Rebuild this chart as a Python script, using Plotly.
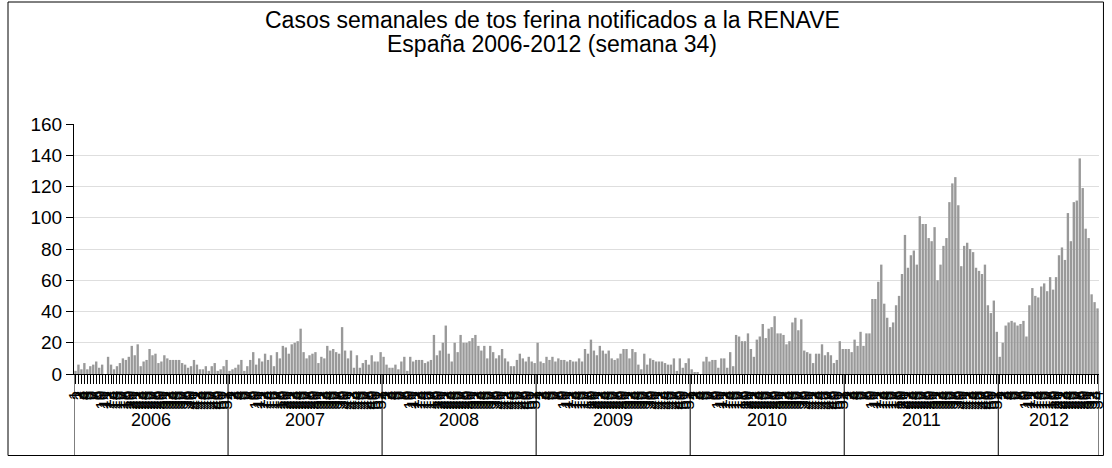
import plotly.graph_objects as go

# Casos semanales de tos ferina (RENAVE)
years = ['2006', '2007', '2008', '2009', '2010', '2011', '2012']

cases_2006 = [2, 6, 3, 7, 3, 5, 6, 8, 4, 6, 0, 11, 6, 3, 5, 7, 10, 9, 11, 18,
              12, 19, 5, 8, 9, 16, 12, 13, 7, 8, 12, 10, 9, 9, 9, 9, 7, 6, 4, 5,
              9, 6, 3, 3, 5, 2, 5, 7, 2, 3, 5, 9]
cases_2007 = [2, 3, 4, 6, 9, 2, 5, 9, 14, 6, 10, 8, 13, 9, 12, 5, 14, 10, 18, 17,
              13, 19, 20, 21, 29, 14, 10, 12, 13, 14, 7, 11, 10, 18, 15, 16, 14, 13, 30, 15,
              10, 15, 4, 12, 4, 7, 9, 6, 12, 8, 8, 14]
cases_2008 = [11, 6, 4, 4, 6, 3, 8, 11, 2, 11, 8, 9, 9, 9, 7, 8, 9, 25, 12, 15,
              20, 31, 13, 8, 20, 14, 25, 20, 20, 21, 23, 25, 18, 15, 18, 10, 18, 14, 10, 12,
              16, 10, 8, 5, 5, 9, 13, 10, 8, 11, 8, 7]
cases_2009 = [20, 8, 7, 11, 9, 11, 8, 10, 9, 9, 8, 9, 8, 8, 10, 8, 16, 13, 22, 15,
              12, 18, 15, 13, 15, 10, 9, 10, 13, 16, 16, 10, 16, 14, 6, 3, 13, 6, 10, 9,
              8, 8, 8, 7, 6, 6, 10, 2, 10, 4, 7, 10]
cases_2010 = [3, 1, 1, 0, 8, 11, 8, 9, 9, 4, 10, 10, 4, 14, 5, 25, 24, 21, 21, 26,
              16, 11, 22, 24, 32, 23, 29, 30, 37, 26, 26, 25, 19, 21, 33, 36, 28, 35, 15, 14,
              13, 7, 13, 13, 19, 12, 14, 12, 7, 9, 21, 16]
cases_2011 = [16, 16, 14, 22, 18, 27, 18, 26, 26, 48, 48, 59, 70, 45, 36, 30, 33, 44, 50, 64,
              89, 68, 76, 79, 70, 101, 96, 96, 87, 85, 94, 60, 70, 82, 87, 110, 122, 126, 108, 69,
              82, 84, 80, 78, 68, 66, 64, 70, 44, 39, 47, 27]
cases_2012 = [11, 20, 31, 33, 34, 33, 31, 32, 34, 24, 44, 55, 50, 49, 56, 58, 53, 62, 54, 62,
              76, 81, 73, 103, 85, 110, 111, 138, 119, 93, 87, 51, 46, 42]

weekly_cases = [cases_2006, cases_2007, cases_2008, cases_2009,
                cases_2010, cases_2011, cases_2012]

title_1 = 'Casos semanales de tos ferina notificados a la RENAVE'
title_2 = 'España 2006-2012 (semana 34)'

# page / plot geometry (px)
W, H = 1112, 468
L, R, T, B = 74, 5, 124, 94
PW, PH = W - L - R, H - T - B

FONT = 'Liberation Sans, Arial, sans-serif'

# flatten weeks into one running axis
x_pos, week_lbl, values = [], [], []
edges = [-0.5]
for vals in weekly_cases:
    for w, v in enumerate(vals, start=1):
        x_pos.append(len(x_pos))
        week_lbl.append(str(w))
        values.append(v)
    edges.append(len(x_pos) - 0.5)


def py(pix):
    # pixel row -> paper y
    return (H - B - pix) / PH


def px(pix):
    return (pix - L) / PW


fig = go.Figure()
fig.add_trace(go.Bar(
    x=x_pos, y=values,
    marker=dict(color='#999999', line=dict(width=0)),
    hoverinfo='y',
))

shapes = []
# year separators going down through the labels
for e in edges:
    shapes.append(dict(type='line', xref='x', yref='paper',
                       x0=e, x1=e, y0=0, y1=py(455),
                       line=dict(color='black', width=1)))
# outer frame
shapes.append(dict(type='rect', xref='paper', yref='paper',
                   x0=px(7.5), x1=px(1111.5), y0=py(455.5), y1=py(2),
                   line=dict(color='black', width=1), fillcolor='rgba(0,0,0,0)'))

annotations = []
for yr, a, b in zip(years, edges[:-1], edges[1:]):
    annotations.append(dict(x=(a + b) / 2, y=py(420), xref='x', yref='paper',
                            xanchor='center', yanchor='middle',
                            text=yr, showarrow=False,
                            font=dict(size=18, color='black', family=FONT)))
for txt, row in [(title_1, 20), (title_2, 44)]:
    annotations.append(dict(x=px(556), y=py(row), xref='paper', yref='paper',
                            xanchor='center', yanchor='middle',
                            text=txt, showarrow=False,
                            font=dict(size=23, color='black', family=FONT)))

fig.update_layout(
    width=W, height=H,
    margin=dict(l=L, r=R, t=T, b=B, pad=0),
    paper_bgcolor='white', plot_bgcolor='white',
    bargap=0.2,
    showlegend=False,
    shapes=shapes,
    annotations=annotations,
    font=dict(family=FONT, color='black'),
    xaxis=dict(
        range=[-0.5, len(x_pos) - 0.5],
        tickmode='array', tickvals=x_pos, ticktext=week_lbl,
        tickangle=-90, tickfont=dict(size=17, color='black'),
        ticks='outside', ticklen=9, tickcolor='black', tickwidth=1,
        showline=True, linecolor='black', linewidth=1,
        showgrid=False, zeroline=False,
    ),
    yaxis=dict(
        range=[0, 160], dtick=20,
        tickfont=dict(size=19, color='black'),
        ticks='outside', ticklen=7, tickcolor='black',
        showline=True, linecolor='black', linewidth=1,
        showgrid=True, gridcolor='#dedede', gridwidth=1,
        zeroline=False,
    ),
)

fig.write_html('out.html',
               config={'displayModeBar': False},
               post_script="document.body.style.margin='0';"
                           "document.body.style.overflow='hidden';")
